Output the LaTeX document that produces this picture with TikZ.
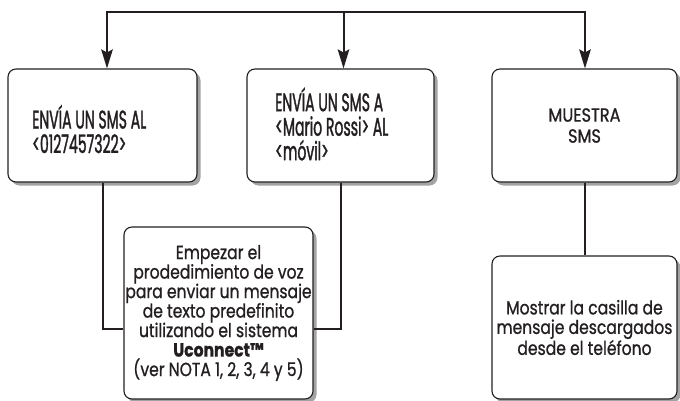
\documentclass[tikz,border=0pt]{standalone}
\usepackage{fontspec}
\usetikzlibrary{arrows.meta,shadows,calc}
\newfontfamily\fa[FakeStretch=0.55,FakeBold=1.2]{Poppins}
\newfontfamily\fb[FakeStretch=0.85,FakeBold=0.9]{Poppins}
\newfontfamily\fc[FakeStretch=0.82,FakeBold=0.9]{Poppins}
\definecolor{ink}{HTML}{231F20}
\definecolor{shade}{HTML}{A3A3A3}
\begin{document}
\begin{tikzpicture}[x=1pt,y=-1pt,
  box/.style={draw=ink, line width=1.1pt, rounded corners=8pt, fill=white, text=ink,
    inner sep=0pt, drop shadow={shadow xshift=3.5pt, shadow yshift=-3.5pt, fill=shade, opacity=1}},
  bigtxt/.style={font={\fa\fontsize{25.5}{24.5}\selectfont}},
  midtxt/.style={font={\fb\fontsize{19}{21}\selectfont}},
  smalltxt/.style={font={\fc\fontsize{19}{19.5}\selectfont}},
  conn/.style={draw=ink, line width=2pt},
  tip/.tip={Stealth[length=19pt,width=11.5pt,inset=3pt]}]
\useasboundingbox (0,0) rectangle (680,400);
\node[box, minimum width=189pt, minimum height=113pt] (b1) at (102.5,125.5) {};
\node[bigtxt, text=ink, align=left, anchor=west, inner sep=0pt] (t1txt) at (32,129) {ENVÍA UN SMS AL\\<0127457322>};
\node[box, minimum width=187pt, minimum height=113pt] (b2) at (340.5,125.5) {};
\node[bigtxt, text=ink, align=left, anchor=west, inner sep=0pt] (t2txt) at (275,124) {ENVÍA UN SMS A\\<Mario Rossi> AL\\<móvil>};
\node[box, midtxt, align=center, minimum width=185pt, minimum height=113pt] (b3) at (584.5,125.5) {MUESTRA\\SMS};
\node[box, smalltxt, align=center, minimum width=189pt, minimum height=172pt] (b4) at (218.5,313) {Empezar el\\prodedimiento de voz\\para enviar un mensaje\\de texto predefinito\\utilizando el sistema\\{\bfseries Uconnect™}\\(ver NOTA 1, 2, 3, 4 y 5)};
\node[box, smalltxt, align=center, minimum width=185pt, minimum height=143pt] (b5) at (584.5,327.5) {Mostrar la casilla de\\mensaje descargados\\desde el teléfono};
\coordinate (t1) at (107,12);
\coordinate (t2) at (343.5,12);
\coordinate (t3) at (585,12);
\draw[conn, {tip}-{tip}] (t1 |- b1.north) -- (t1) -- (t3) -- (t3 |- b3.north);
\draw[conn, -{tip}] (t2) -- (t2 |- b2.north);
\draw[conn] (b1.south) |- ([yshift=-16pt]b4.west);
\draw[conn] (b2.south) |- ([yshift=-16pt]b4.east);
\draw[conn] (b3.south) -- (b5.north);
\end{tikzpicture}
\end{document}
